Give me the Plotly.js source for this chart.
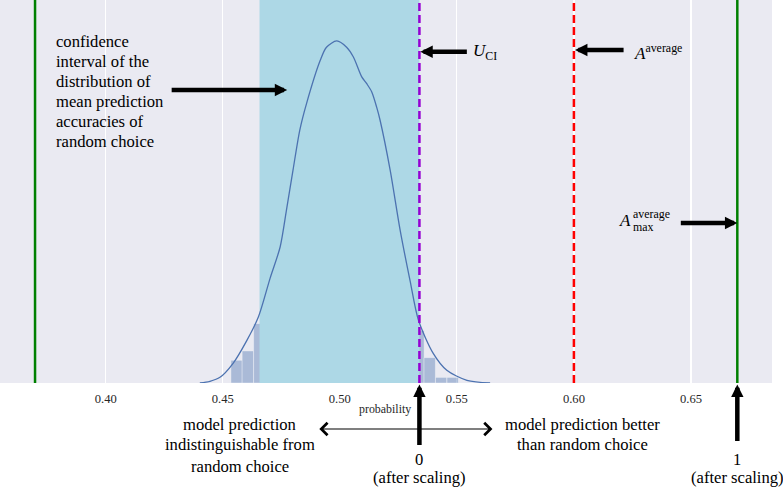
<!DOCTYPE html>
<html>
<head>
<meta charset="utf-8">
<script src="https://cdn.plot.ly/plotly-3.0.1.min.js"></script>
<style>html,body{margin:0;padding:0;background:#fff;}#chart{width:783px;height:489px;}</style>
</head>
<body>
<div id="chart"></div>
<script>
// ---- data ----
const tickVals = [0.40, 0.45, 0.50, 0.55, 0.60, 0.65];
const tickText = ["0.40", "0.45", "0.50", "0.55", "0.60", "0.65"];

// histogram of mean prediction accuracies of random choice (density)
const binCenters = [0.4559, 0.4607, 0.4656, 0.4704, 0.4753, 0.4802, 0.4850, 0.4899, 0.4947, 0.4996,
                    0.5044, 0.5093, 0.5142, 0.5190, 0.5239, 0.5287, 0.5336, 0.5384, 0.5433, 0.5482];
const binHeights = [2.55, 3.6, 6.67, 12, 17, 24, 31, 36, 38, 38,
                    36, 33, 29, 22, 15, 10, 5.9, 2.85, 0.63, 0.63];
const binWidth = 0.004857;

// kernel density estimate
const kdeX = [0.4402, 0.4445, 0.4488, 0.4544, 0.4603, 0.4652, 0.4702, 0.4745, 0.4772, 0.4800, 0.4829,
              0.4858, 0.4916, 0.4943, 0.4987, 0.5029, 0.5058, 0.5093, 0.5115, 0.5136, 0.5157, 0.5172,
              0.5215, 0.5258, 0.5300, 0.5336, 0.5399, 0.5457, 0.5543, 0.5642];
const kdeY = [0.0, 0.19, 0.64, 2.21, 4.79, 7.41, 11.75, 15.27, 19.4, 23.9, 28.4,
              31.4, 36.2, 37.7, 38.4, 37.7, 36.6, 34.4, 33.6, 32.7, 31.0, 29.5,
              23.9, 17.1, 11.5, 7.04, 3.33, 1.43, 0.30, 0.0];

// reference values
const ciLow = 0.4657;        // lower end of confidence interval
const ciHigh = 0.534;        // U_CI
const randomChoice = 0.3698; // left green line
const aAverage = 0.60;       // A^average
const aMax = 0.6698;         // A_max^average

const xRange = [0.35483, 0.68462];
const yMax = 43;

// text lines
const ciLines = ["confidence", "interval of the", "distribution of", "mean prediction", "accuracies of", "random choice"];
const leftLines = ["model prediction", "indistinguishable from", "random choice"];
const rightLines = ["model prediction better", "than random choice"];

// ---- helpers ----
const PH = 383; // plot height in px
const py = p => (PH - p) / PH; // pixel-from-top -> paper y
const serif = "Liberation Serif";
const FS = 16.6;

const traces = [
  {
    type: "bar", x: binCenters, y: binHeights, width: binWidth,
    marker: {color: "rgba(76,114,176,0.4)", line: {color: "rgba(255,255,255,0.6)", width: 0.6}},
    hoverinfo: "skip", showlegend: false
  },
  {
    type: "scatter", mode: "lines",
    x: [ciLow, ciHigh, ciHigh, ciLow, ciLow], y: [0, 0, yMax, yMax, 0],
    fill: "toself", fillcolor: "#ADD8E6", line: {width: 0, color: "#ADD8E6"},
    hoverinfo: "skip", showlegend: false
  },
  {
    type: "scatter", mode: "lines", x: kdeX, y: kdeY,
    line: {color: "#4C72B0", width: 1.3, shape: "spline", smoothing: 0.8},
    hoverinfo: "skip", showlegend: false
  }
];

const vline = (x, color, dash, w) => ({
  type: "line", xref: "x", yref: "paper", x0: x, x1: x, y0: 0, y1: 1,
  line: {color: color, width: w, dash: dash}, layer: "above"
});

const shapes = [
  vline(randomChoice, "#008000", "solid", 2.5),
  vline(aMax, "#008000", "solid", 2.5),
  vline(aAverage, "#FF0000", "8px,4px", 2.5),
  vline(ciHigh, "#9400D3", "8px,4px", 2.5)
];

const txt = (x, y, text, size, opts) => Object.assign({
  xref: "x", yref: "paper", x: x, y: y, text: text, showarrow: false,
  font: {family: serif, size: size, color: "#000"}, xanchor: "center", yanchor: "middle"
}, opts || {});

const arrow = (x, y, ax, ay, w, s) => ({
  xref: "x", yref: "paper", x: x, y: y, ax: ax, ay: ay, axref: "pixel", ayref: "pixel",
  text: "", showarrow: true, arrowhead: 2, arrowsize: s, arrowwidth: w, arrowcolor: "#000", standoff: 0
});

const annotations = [];
// left explanatory text, one annotation per line
ciLines.forEach((t, i) => annotations.push(txt(0.3781, py(41.5 + 20 * i), t, FS, {xanchor: "left"})));
annotations.push(arrow(0.4775, py(90), -117, 0, 4.5, 0.55));
// U_CI
annotations.push(arrow(ciHigh + 0.0004, py(51.7), 48, 0, 4.5, 0.55));
annotations.push(txt(0.5560, py(52), "<i>U</i><sub>CI</sub>", 17, {xanchor: "left"}));
// A^average
annotations.push(arrow(aAverage + 0.0005, py(50), 50, 0, 4.5, 0.55));
annotations.push(txt(0.6249, py(52), "<i>A</i><sup>average</sup>", 17, {xanchor: "left"}));
// A_max^average
annotations.push(arrow(aMax, py(223), -58, 0, 4.5, 0.55));
annotations.push(txt(0.6185, py(220.5), "<i>A</i>", 17, {xanchor: "left"}));
annotations.push(txt(0.6243, py(214), "average", 11.9, {xanchor: "left"}));
annotations.push(txt(0.6243, py(227), "max", 11.9, {xanchor: "left"}));
// below-axis items
annotations.push(txt(0.5195, py(408.8), "probability", 11.9, {font: {family: serif, size: 11.9, color: "#262626"}}));
annotations.push(arrow(ciHigh, py(384.5), 0, 62, 4.5, 0.55));
annotations.push(arrow(aMax, py(384.5), 0, 58, 4.5, 0.55));
annotations.push({
  xref: "x", yref: "paper", x: 0.5652, y: py(429), ax: 0.4906, ay: 0, axref: "x", ayref: "pixel",
  text: "", showarrow: true, arrowside: "end+start", arrowhead: 4, startarrowhead: 4,
  arrowsize: 2.2, startarrowsize: 2.2, arrowwidth: 1.1, arrowcolor: "#000", standoff: 0, startstandoff: 0
});
leftLines.forEach((t, i) => annotations.push(txt(0.45726, py(424 + 21 * i), t, FS)));
rightLines.forEach((t, i) => annotations.push(txt(0.60355, py(424 + 21 * i), t, FS)));
annotations.push(txt(ciHigh, py(459.5), "0", FS));
annotations.push(txt(ciHigh, py(477.5), "(after scaling)", FS));
annotations.push(txt(aMax, py(459.5), "1", FS));
annotations.push(txt(aMax, py(477.5), "(after scaling)", FS));

const layout = {
  width: 783, height: 489,
  margin: {l: 0, r: 11.3, t: 0, b: 106, pad: 0},
  paper_bgcolor: "#FFFFFF", plot_bgcolor: "#EAEAF2",
  showlegend: false, bargap: 0,
  font: {family: serif},
  xaxis: {
    range: xRange, tickvals: tickVals, ticktext: tickText,
    showgrid: true, gridcolor: "#FFFFFF", gridwidth: 1.2, zeroline: false, showline: false,
    ticks: "", ticklabelstandoff: 6,
    tickfont: {family: serif, size: 12.6, color: "#262626"}, fixedrange: true
  },
  yaxis: {range: [0, yMax], visible: false, showgrid: false, zeroline: false, fixedrange: true},
  shapes: shapes,
  annotations: annotations
};

Plotly.newPlot("chart", traces, layout, {staticPlot: true, displayModeBar: false});
</script>
</body>
</html>
